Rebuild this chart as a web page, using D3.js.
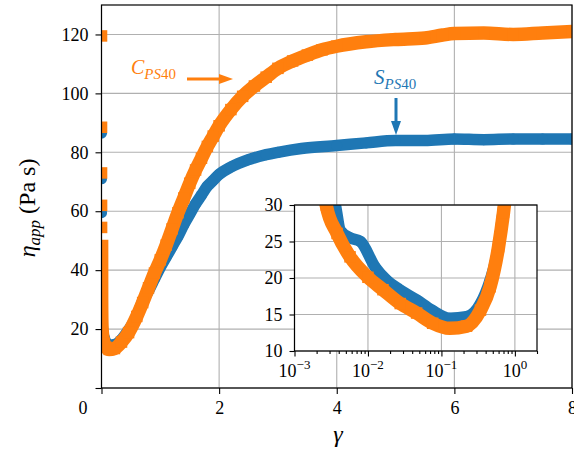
<!DOCTYPE html>
<html><head><meta charset="utf-8">
<script src="https://cdn.jsdelivr.net/npm/d3@7"></script>
</head><body style="margin:0">
<svg id="c" width="574" height="453" font-family="Liberation Serif"></svg>
<script>
// ---- data ----
const oGamma = [0.0004,0.0007,0.001,0.0013,0.0016,0.0019,0.0021,0.0023,0.0027,0.0038,0.0057,0.01,0.016,0.0275,0.046,0.076,0.13,0.22,0.34,0.46,0.6,0.7,0.8,0.9,1.0,1.1,1.2,1.3,1.4,1.5,1.6,1.7,1.8,1.9,2.0,2.2,2.4,2.6,2.8,3.0,3.25,3.5,3.75,4.0,4.5,5.0,5.5,5.8,6.0,6.5,7.0,7.5,8.0];
const oEta   = [119.5,88.5,73,62,54.5,48,45,38,30,26.1,22.9,20.1,18.4,16.5,15.2,13.8,13.1,13.4,15.6,18.8,24.3,29,34,39,43.5,48.5,54,59.5,64.5,69.5,74,78,82,85.5,89,94.5,99,102.5,105.5,108.5,111,113,114.8,116,117.5,118.3,118.8,119.8,120.3,120.5,120,120.5,121];
const oIsolated = 5;
const bGamma = [0.0005,0.001,0.0015,0.002,0.0025,0.003,0.0036,0.0042,0.0057,0.0079,0.0125,0.018,0.027,0.046,0.074,0.13,0.22,0.34,0.46,0.55,0.62,0.7,0.8,0.9,1.0,1.1,1.2,1.3,1.4,1.5,1.6,1.7,1.8,1.9,2.0,2.2,2.5,2.8,3.0,3.4,4.0,4.5,5.0,5.5,6.0,6.5,7.0,7.5,8.0];
const bEta   = [86.5,71,59.5,46,38,33,30,26.5,25.5,25,21.5,19.7,18.4,17,15.6,14.5,14.7,16.5,19.7,22.5,25.5,29.5,33,37,41,44.5,48,51.5,55.5,59,62.5,65.5,68.5,70.5,72.5,75,77.5,79.2,80,81.3,82.3,83.2,84,84,84.5,84.3,84.5,84.5,84.5];
const bIsolated = 3;
const xTicks = [0,2,4,6,8];
const yTicks = [0,20,40,60,80,100,120];
const insetYTicks = [10,15,20,25,30];
const insetXTicks = [1e-3,1e-2,1e-1,1e0];

// ---- setup ----
const F = "Liberation Serif";
const blue = "#1f77b4", orange = "#ff7f0e", gridC = "#b0b0b0";
const svg = d3.select("#c");
const M = {l:101.5, r:572, t:5, b:388};
const x = d3.scaleLinear().domain([0,8]).range([M.l, M.r]);
const y = d3.scaleLinear().domain([0,130]).range([M.b, M.t]);
const I = {l:294.5, r:537, t:205, b:351};
const xi = d3.scaleLog().domain([1e-3,2]).range([I.l, I.r]);
const yi = d3.scaleLinear().domain([10,30]).range([I.b, I.t]);

function styleAxis(g, size){
  g.attr("font-family", F).attr("font-size", size);
  g.select(".domain").remove();
  g.selectAll(".tick line").attr("stroke","#000").attr("stroke-width",1.1);
  g.selectAll(".tick text").attr("fill","#000").attr("font-family",F).style("font-family",F).attr("font-size",size);
}
function addText(xp, yp, size){
  return svg.append("text").attr("x",xp).attr("y",yp).attr("font-size",size)
    .attr("font-family",F).style("font-family",F);
}
function viewport(R){
  return svg.append("svg").attr("x",R.l).attr("y",R.t)
    .attr("width",R.r-R.l).attr("height",R.b-R.t)
    .attr("viewBox",`${R.l} ${R.t} ${R.r-R.l} ${R.b-R.t}`)
    .attr("overflow","hidden");
}
function drawSeries(g, xs, ys, gam, eta, iso, color, shape){
  const pts = gam.map((v,i)=>[xs(v), ys(eta[i])]);
  const line = d3.line().curve(d3.curveMonotoneX);
  g.append("path").attr("d", line(pts.slice(iso)))
    .attr("fill","none").attr("stroke",color)
    .attr("stroke-width", shape==="square" ? 13.5 : 11.5)
    .attr("stroke-linecap", shape==="square" ? "square" : "round")
    .attr("stroke-linejoin", shape==="square" ? "miter" : "round");
  if(shape==="square"){
    g.selectAll(null).data(pts).join("rect")
      .attr("x",d=>d[0]-5.75).attr("y",d=>d[1]-5.75).attr("width",11.5).attr("height",11.5).attr("fill",color);
  } else {
    g.selectAll(null).data(pts).join("circle")
      .attr("cx",d=>d[0]).attr("cy",d=>d[1]).attr("r",5.5).attr("fill",color);
  }
}

// ---- main grid ----
const grid = svg.append("g").attr("stroke",gridC).attr("stroke-width",1.1);
grid.selectAll(null).data(xTicks).join("line")
  .attr("x1",d=>x(d)).attr("x2",d=>x(d)).attr("y1",M.t).attr("y2",M.b);
grid.selectAll(null).data(yTicks).join("line")
  .attr("x1",M.l).attr("x2",M.r).attr("y1",d=>y(d)).attr("y2",d=>y(d));

// ---- main series (clipped by a nested viewport) ----
const mainV = viewport(M);
drawSeries(mainV.append("g"), x, y, bGamma, bEta, bIsolated, blue, "circle");
drawSeries(mainV.append("g"), x, y, oGamma, oEta, oIsolated, orange, "square");

// ---- main axes ----
const gx = svg.append("g").attr("transform",`translate(0,${M.b})`)
  .call(d3.axisBottom(x).tickValues(xTicks).tickSize(6).tickPadding(7).tickFormat(d3.format("d")));
styleAxis(gx, 18);
gx.selectAll(".tick text").filter(d=>d===0).attr("dx", -19);
const gy = svg.append("g").attr("transform",`translate(${M.l},0)`)
  .call(d3.axisLeft(y).tickValues(yTicks).tickSize(6).tickPadding(7).tickFormat(d=>d===0?"":d));
styleAxis(gy, 18);
svg.append("rect").attr("x",M.l).attr("y",M.t).attr("width",M.r-M.l).attr("height",M.b-M.t)
  .attr("fill","none").attr("stroke","#000").attr("stroke-width",1.2);

// axis labels
addText(338, 442, 24).attr("text-anchor","middle").attr("font-style","italic").text("γ");
const yl = svg.append("text").attr("transform","translate(35,208) rotate(-90)")
  .attr("text-anchor","middle").attr("font-size",24).attr("font-family",F).style("font-family",F);
yl.append("tspan").attr("font-style","italic").text("η");
yl.append("tspan").attr("font-style","italic").attr("font-size",17).attr("dy",5).text("app");
yl.append("tspan").attr("dy",-5).text(" (Pa s)");

// ---- annotations ----
const ca = addText(131, 73.5, 20).attr("fill",orange);
ca.append("tspan").attr("font-style","italic").text("C");
ca.append("tspan").attr("font-style","italic").attr("font-size",15).attr("dy",5).text("PS");
ca.append("tspan").attr("font-size",15).text("40");
svg.append("line").attr("x1",187).attr("x2",222).attr("y1",79).attr("y2",79)
  .attr("stroke",orange).attr("stroke-width",3);
svg.append("path").attr("d","M219,74L233,79L219,84Z").attr("fill",orange);

const sa = addText(374, 84, 21).attr("fill",blue);
sa.append("tspan").attr("font-style","italic").text("S");
sa.append("tspan").attr("font-style","italic").attr("font-size",15).attr("dy",4.5).text("PS");
sa.append("tspan").attr("font-size",15).text("40");
svg.append("line").attr("x1",396).attr("x2",396).attr("y1",98).attr("y2",123)
  .attr("stroke",blue).attr("stroke-width",3);
svg.append("path").attr("d","M391,121L396,135L401,121Z").attr("fill",blue);

// ---- inset ----
svg.append("rect").attr("x",I.l).attr("y",I.t).attr("width",I.r-I.l).attr("height",I.b-I.t).attr("fill","#fff");
const ig = svg.append("g").attr("stroke",gridC).attr("stroke-width",1.1);
ig.selectAll(null).data(insetXTicks).join("line")
  .attr("x1",d=>xi(d)).attr("x2",d=>xi(d)).attr("y1",I.t).attr("y2",I.b);
ig.selectAll(null).data(insetYTicks).join("line")
  .attr("x1",I.l).attr("x2",I.r).attr("y1",d=>yi(d)).attr("y2",d=>yi(d));
const insV = viewport(I);
drawSeries(insV.append("g"), xi, yi, bGamma, bEta, bIsolated, blue, "circle");
drawSeries(insV.append("g"), xi, yi, oGamma, oEta, oIsolated, orange, "square");

const giy = svg.append("g").attr("transform",`translate(${I.l},0)`)
  .call(d3.axisLeft(yi).tickValues(insetYTicks).tickSize(5).tickPadding(7).tickFormat(d3.format("d")));
styleAxis(giy, 18);
const minor = [];
[1e-3,1e-2,1e-1,1].forEach(dec=>{ for(let k=2;k<=9;k++){ const v=dec*k; if(v<=2) minor.push(v);} });
const gim = svg.append("g").attr("transform",`translate(0,${I.b})`)
  .call(d3.axisBottom(xi).tickValues(minor).tickSize(3).tickFormat(""));
styleAxis(gim, 10);
const gix = svg.append("g").attr("transform",`translate(0,${I.b})`)
  .call(d3.axisBottom(xi).tickValues(insetXTicks).tickSize(5.5).tickFormat(""));
styleAxis(gix, 10);
insetXTicks.forEach(t=>{
  const e = Math.round(Math.log10(t));
  const tx = addText(xi(t), 376.5, 18).attr("text-anchor","middle");
  tx.append("tspan").text("10");
  tx.append("tspan").attr("font-size",13).attr("dy",-7.5).text(e<0 ? "\u2212"+(-e) : String(e));
});
svg.append("rect").attr("x",I.l).attr("y",I.t).attr("width",I.r-I.l).attr("height",I.b-I.t)
  .attr("fill","none").attr("stroke","#000").attr("stroke-width",1.2);
</script>
</body></html>
